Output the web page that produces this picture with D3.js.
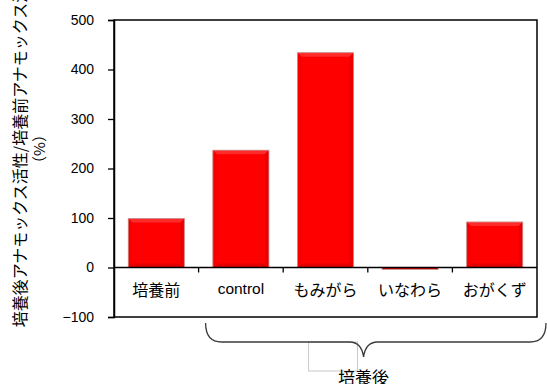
<!DOCTYPE html>
<html>
<head>
<meta charset="utf-8">
<script src="https://cdn.jsdelivr.net/npm/d3@7"></script>
<style>
  html, body { margin: 0; padding: 0; background: #fff; }
  svg { display: block; }
</style>
</head>
<body>
<svg id="chart" width="547" height="384" font-family="Liberation Sans, Noto Sans CJK JP, sans-serif"></svg>
<script>
// Activity ratio of anammox after incubation vs before (%)
const categories = ["培養前", "control", "もみがら", "いなわら", "おがくず"];
const values = [99, 237, 434, -4, 92];
const yTicks = [-100, 0, 100, 200, 300, 400, 500];
const yTitle = ["培養後アナモックス活性/培養前アナモックス活性", "（%）"];
const groupLabel = "培養後";

const JP = "Noto Sans CJK JP, sans-serif";
const LAT = "Liberation Sans, sans-serif";

const svg = d3.select("#chart");
const margin = { left: 114, right: 10, top: 20, bottom: 67 };
const W = 547, H = 384;
const plotRight = W - margin.right;
const plotBottom = H - margin.bottom;

const x = d3.scaleBand().domain(categories).range([margin.left, plotRight]).padding(0);
const y = d3.scaleLinear().domain([-100, 500]).range([plotBottom, margin.top]);

const barW = x.bandwidth() * 0.663;
const bev = 4;
const g = svg.append("g");

categories.forEach((c, i) => {
  const v = values[i];
  const cx = x(c) + x.bandwidth() / 2;
  const x0 = cx - barW / 2, x1 = cx + barW / 2;
  const yA = y(Math.max(0, v)), yB = y(Math.min(0, v));
  const h = yB - yA;
  const bar = g.append("g");
  bar.append("rect")
    .attr("x", x0).attr("y", yA).attr("width", barW).attr("height", h)
    .attr("fill", "#ff0000");
  const b = Math.min(bev, h / 2);
  if (h > 3) {
    // bevelled edges: light top, darker sides and bottom
    bar.append("polygon")
      .attr("points", [[x0, yA], [x1, yA], [x1 - b, yA + b], [x0 + b, yA + b]].join(" "))
      .attr("fill", "#ff2a2a");
    bar.append("polygon")
      .attr("points", [[x0, yA], [x0 + b, yA + b], [x0 + b, yB - b], [x0, yB]].join(" "))
      .attr("fill", "#f50000");
    bar.append("polygon")
      .attr("points", [[x1, yA], [x1 - b, yA + b], [x1 - b, yB - b], [x1, yB]].join(" "))
      .attr("fill", "#ea0000");
    bar.append("polygon")
      .attr("points", [[x0, yB], [x0 + b, yB - b], [x1 - b, yB - b], [x1, yB]].join(" "))
      .attr("fill", "#e30000");
  } else {
    bar.select("rect").attr("fill", "#d40000");
  }
  bar.append("rect")
    .attr("x", x0).attr("y", yA).attr("width", barW).attr("height", h)
    .attr("fill", "none").attr("stroke", "#c89a9a").attr("stroke-width", 0.8);
});

// plot frame
svg.append("rect")
  .attr("x", margin.left).attr("y", margin.top)
  .attr("width", plotRight - margin.left).attr("height", plotBottom - margin.top)
  .attr("fill", "none").attr("stroke", "#000").attr("stroke-width", 1.5);

// y axis
const yAxis = svg.append("g")
  .attr("transform", `translate(${margin.left},0)`)
  .call(d3.axisLeft(y).tickValues(yTicks).tickSize(6).tickPadding(14)
        .tickFormat(d => d < 0 ? "\u2212" + Math.abs(d) : d));
yAxis.select(".domain").attr("stroke", "#000").attr("stroke-width", 1.5);
yAxis.selectAll(".tick line").attr("stroke", "#000").attr("stroke-width", 1.3);
yAxis.selectAll(".tick text").attr("font-size", 14).attr("font-family", LAT).attr("fill", "#000");

// category axis along zero
const xAxis = svg.append("g").attr("transform", `translate(0,${y(0)})`);
xAxis.append("line")
  .attr("x1", margin.left).attr("x2", plotRight)
  .attr("stroke", "#000").attr("stroke-width", 1.3);
const bounds = categories.slice(1).map(c => x(c));
xAxis.selectAll("line.tk").data(bounds).join("line").attr("class", "tk")
  .attr("x1", d => d).attr("x2", d => d).attr("y1", 0).attr("y2", 5)
  .attr("stroke", "#000").attr("stroke-width", 1.3);
xAxis.selectAll("text").data(categories).join("text")
  .attr("x", d => x(d) + x.bandwidth() / 2)
  .attr("y", d => /^[a-z]/.test(d) ? 26 : 28)
  .attr("text-anchor", "middle")
  .attr("font-size", d => /^[a-z]/.test(d) ? 15.5 : 16)
  .attr("font-family", d => /^[a-z]/.test(d) ? LAT : JP)
  .attr("fill", "#000")
  .text(d => d);

// y axis title
const title = svg.append("g").attr("transform", "translate(0,149) rotate(-90)");
title.append("text").attr("x", 0).attr("y", 26).attr("text-anchor", "middle")
  .attr("font-size", 16).attr("font-family", JP).text(yTitle[0]);
title.append("text").attr("x", 0).attr("y", 45).attr("text-anchor", "middle")
  .attr("font-size", 15).attr("font-family", JP).text(yTitle[1]);

// brace grouping the post-incubation samples
const bL = x("control") + 7;
const bR = plotRight + 9;
const tip = x("もみがら") + x.bandwidth() * 0.95;
const bTop = plotBottom + 6, bMid = plotBottom + 25, bTip = plotBottom + 40;

svg.append("rect")
  .attr("x", tip - 55).attr("y", bMid).attr("width", 49).attr("height", 29)
  .attr("fill", "none").attr("stroke", "#c8c8c8").attr("stroke-width", 1);

const p = d3.path();
p.moveTo(bL, bTop);
p.quadraticCurveTo(bL, bMid, bL + 16, bMid);
p.lineTo(tip - 14, bMid);
p.quadraticCurveTo(tip - 2, bMid, tip, bTip);
p.quadraticCurveTo(tip + 2, bMid, tip + 14, bMid);
p.lineTo(bR - 16, bMid);
p.quadraticCurveTo(bR, bMid, bR, bTop);
svg.append("path").attr("d", p.toString())
  .attr("fill", "none").attr("stroke", "#3c3c3c").attr("stroke-width", 1.3);

svg.append("text")
  .attr("x", tip).attr("y", plotBottom + 67)
  .attr("text-anchor", "middle")
  .attr("font-size", 17).attr("font-family", JP)
  .text(groupLabel);
</script>
</body>
</html>
